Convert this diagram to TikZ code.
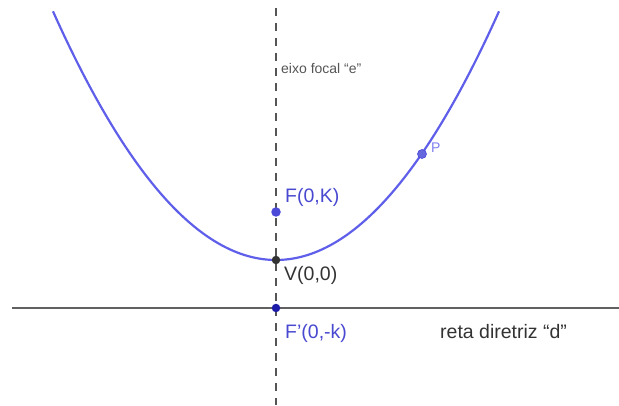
\documentclass[tikz,border=0pt]{standalone}
\usepackage{fontspec}
\setmainfont{Liberation Sans}
\definecolor{curveblue}{HTML}{5F5FEA}
\definecolor{ptblue}{HTML}{4B4BD8}
\definecolor{dkblue}{HTML}{1C1CA8}
\definecolor{lblblue}{HTML}{4848D0}
\definecolor{lgray}{HTML}{555555}
\definecolor{tgray}{HTML}{333333}
\begin{document}
\begin{tikzpicture}[x=1pt,y=1pt,
  lbl/.style={anchor=west,inner sep=0pt,font=\fontsize{19.5}{22}\selectfont},
  dot/.style={circle,inner sep=0pt,minimum size=#1}]
\useasboundingbox (0,0) rectangle (619,405);
% nodes (points)
\coordinate (top) at (276,397);
\coordinate (bot) at (276,0);
\coordinate (dl) at (12,97);
\coordinate (dr) at (619,97);
% axis
\draw[lgray,line width=1.9pt,dash pattern=on 8pt off 7pt] (top) -- (bot);
% directrix
\draw[black!62,line width=1.9pt] (dl) -- (dr);
% parabola
\draw[curveblue,line width=2.2pt,domain=-22.3:22.3,samples=120,smooth]
  plot ({276+10*\x},{145+0.5*(\x)*(\x)});
% points
\node[dot=9.5pt,fill=ptblue] (F) at (276,193) {};
\node[dot=8.5pt,fill=tgray] (V) at (276,145) {};
\node[dot=8.5pt,fill=dkblue] (Fp) at (276,97) {};
\node[dot=9pt,fill=ptblue!85,draw=ptblue,line width=0.6pt] (P) at (422,251) {};
% labels
\node[lbl,font=\fontsize{14}{16}\selectfont,text=lgray] (eixo) at (281,337) {eixo focal “e”};
\node[lbl,text=lblblue] (lF) at (285,208) {F(0,K)};
\node[lbl,text=tgray] (lV) at (284,130) {V(0,0)};
\node[lbl,text=lblblue] (lFp) at (285,72) {F'(0,-k)};
\node[lbl,font=\fontsize{14}{16}\selectfont,text=curveblue!80] (lP) at (431,257) {P};
\node[lbl,text=tgray] (ld) at (440,73) {reta diretriz “d”};
\end{tikzpicture}
\end{document}
